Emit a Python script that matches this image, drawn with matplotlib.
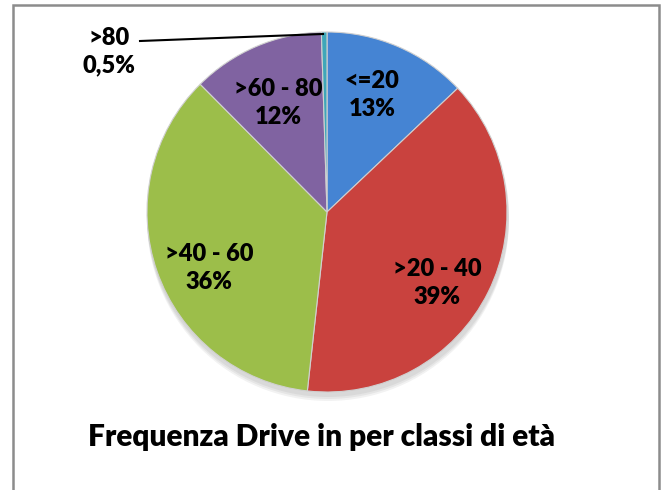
import matplotlib.pyplot as plt
from matplotlib.patches import Rectangle, Circle

categories = ['<=20', '>20 - 40', '>40 - 60', '>60 - 80', '>80']
values = [13, 39, 36, 12, 0.5]
pct_labels = ['13%', '39%', '36%', '12%', '0,5%']
colors = ['#4584d3', '#c9423e', '#9cbe4a', '#8063a1', '#3ea7b9']

W, H = 664, 490
fig = plt.figure(figsize=(W / 100, H / 100), dpi=100)
ax = fig.add_axes([0, 0, 1, 1])

cx, cy, R = 327, H - 212, 180

# soft shadow under the pie
for k in range(3):
    ax.add_patch(Circle((cx + 1, cy - 4 - 2 * k), R + 1, color='black', alpha=0.05, lw=0))

wedges, _ = ax.pie(values, colors=colors, startangle=90, counterclock=False,
                   radius=R, center=(cx, cy), frame=True,
                   wedgeprops=dict(linewidth=0.8, edgecolor='#d0d0d0'))
ax.set_xlim(0, W)
ax.set_ylim(0, H)
ax.set_aspect('equal')
ax.axis('off')

font = dict(family='Lato', fontweight='heavy', fontsize=17, color='black',
            ha='center', va='center', linespacing=1.3)

pos = [(372, 95), (437, 283), (209, 268), (278, 103), (109, 52)]
for (x, y), c, p in zip(pos, categories, pct_labels):
    ax.text(x, H - y, c + '\n' + p, **font)

# leader line for the tiny slice
ax.plot([140, 323], [H - 41, H - 34], color='black', lw=1.5)

ax.text(322, H - 437, 'Frequenza Drive in per classi di età', family='Lato',
        fontweight='heavy', fontsize=21.5, ha='center', va='center')

# chart area border
fig.patches.append(Rectangle((12.5 / W, -0.1), (659 - 12.5) / W, (H - 5.5) / H + 0.1,
                             transform=fig.transFigure, fill=False,
                             edgecolor='#8c8c8c', lw=1.8))

fig.savefig('out.png', dpi=100)
